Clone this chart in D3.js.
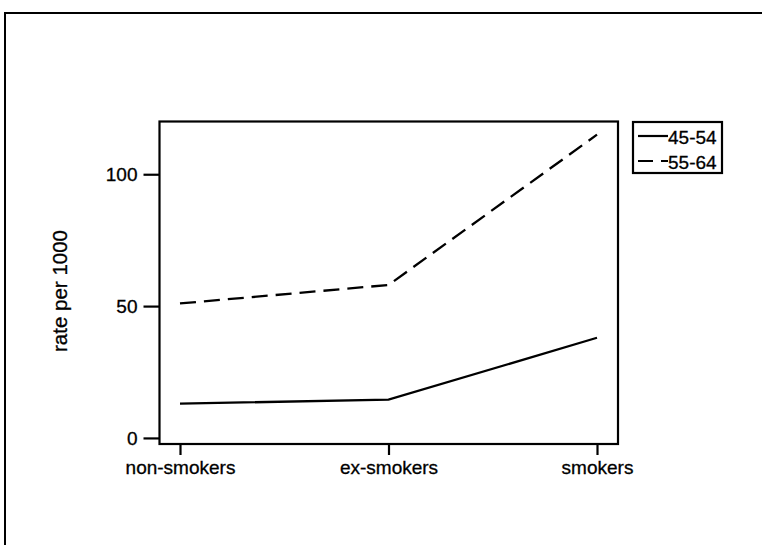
<!DOCTYPE html>
<html>
<head>
<meta charset="utf-8">
<script src="https://cdn.jsdelivr.net/npm/d3@7"></script>
<style>
  html, body { margin: 0; padding: 0; background: #fff; }
  svg { display: block; }
  text { font-family: "Liberation Sans", Arial, Helvetica, sans-serif; fill: #000; }
</style>
</head>
<body>
<svg id="chart" width="762" height="545"></svg>
<script>
// Smoking status categories along the x axis
const categories = ["non-smokers", "ex-smokers", "smokers"];
// Rates per 1000 for each age group
const age4554 = [13, 14.5, 38];
const age5564 = [51, 58, 115];
const seriesNames = ["45-54", "55-64"];
const yTicks = [0, 50, 100];
const yTitle = "rate per 1000";

const series = [
  { name: seriesNames[0], values: age4554, dash: null },
  { name: seriesNames[1], values: age5564, dash: "16,8" }
];

const svg = d3.select("#chart");
const W = 762, H = 545;
const box = { left: 159.5, right: 618, top: 121.5, bottom: 444 };
const fontSize = 19;

// outer frame
svg.append("rect")
  .attr("x", 5).attr("y", 13)
  .attr("width", W + 10).attr("height", H + 10)
  .attr("fill", "none").attr("stroke", "#000").attr("stroke-width", 2);

const x = d3.scalePoint().domain(categories).range([180, 597]);
const y = d3.scaleLinear().domain([-2.3, 120]).range([box.bottom, box.top]);

// plot box
svg.append("rect")
  .attr("x", box.left).attr("y", box.top)
  .attr("width", box.right - box.left).attr("height", box.bottom - box.top)
  .attr("fill", "none").attr("stroke", "#000").attr("stroke-width", 2.2);

function styleText(sel) {
  sel.style("font-size", fontSize + "px")
    .style("font-family", '"Liberation Sans", Arial, sans-serif')
    .attr("fill", "#000")
    .attr("stroke", "#000").attr("stroke-width", 0.3);
}

// y axis
const yAxis = svg.append("g")
  .attr("transform", `translate(${box.left},0)`)
  .call(d3.axisLeft(y).tickValues(yTicks).tickSize(16).tickPadding(6).tickFormat(d3.format("d")));
yAxis.select(".domain").remove();
yAxis.selectAll(".tick line").attr("stroke", "#000").attr("stroke-width", 2.2);
yAxis.selectAll(".tick text").call(styleText);

// x axis
const xAxis = svg.append("g")
  .attr("transform", `translate(0,${box.bottom})`)
  .call(d3.axisBottom(x).tickSize(11).tickPadding(6));
xAxis.select(".domain").remove();
xAxis.selectAll(".tick line").attr("stroke", "#000").attr("stroke-width", 2.2);
xAxis.selectAll(".tick text").call(styleText);

// y axis title
svg.append("text")
  .attr("transform", `translate(67,291) rotate(-90)`)
  .attr("text-anchor", "middle")
  .style("font-size", "20.5px")
  .attr("stroke", "#000").attr("stroke-width", 0.3)
  .text(yTitle);

// series lines
const line = d3.line()
  .x((d, i) => x(categories[i]))
  .y(d => y(d));

series.forEach(s => {
  svg.append("path")
    .datum(s.values)
    .attr("d", line)
    .attr("fill", "none")
    .attr("stroke", "#000")
    .attr("stroke-width", 2.3)
    .attr("stroke-dasharray", s.dash);
});

// legend
const lg = svg.append("g");
lg.append("rect")
  .attr("x", 633).attr("y", 122)
  .attr("width", 89).attr("height", 51)
  .attr("fill", "none").attr("stroke", "#000").attr("stroke-width", 2.2);
series.forEach((s, i) => {
  const ly = 136 + i * 25;
  lg.append("line")
    .attr("x1", 638).attr("x2", 668)
    .attr("y1", ly).attr("y2", ly)
    .attr("stroke", "#000").attr("stroke-width", 2.2)
    .attr("stroke-dasharray", s.dash ? "15,8" : null);
  lg.append("text")
    .attr("x", 668).attr("y", ly + 8)
    .style("font-size", "19px")
    .attr("stroke", "#000").attr("stroke-width", 0.3)
    .text(s.name);
});
</script>
</body>
</html>
